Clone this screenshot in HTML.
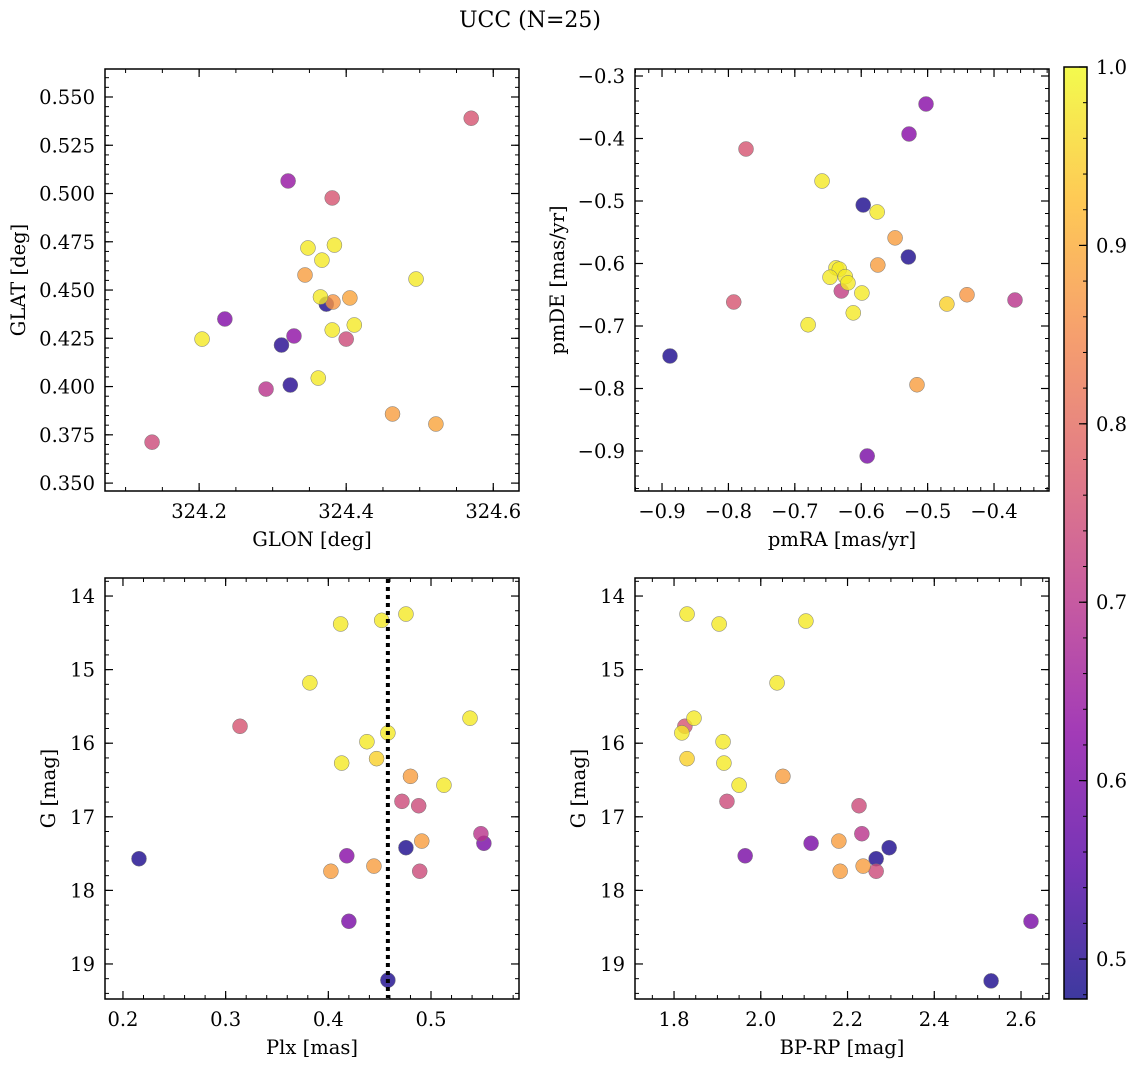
<!DOCTYPE html>
<html><head><meta charset="utf-8"><style>
html,body{margin:0;padding:0;background:#fff;}
svg{display:block;font-family:"DejaVu Serif","Liberation Serif",serif;}
</style></head><body>
<svg id="fig" width="1136" height="1067" viewBox="0 0 1136 1067" xmlns="http://www.w3.org/2000/svg">
<text x="530" y="27" font-size="22" text-anchor="middle">UCC (N=25)</text>
<defs><linearGradient id="cbg" x1="0" y1="1" x2="0" y2="0"></linearGradient></defs>
</svg>
<script>
// Panel 1: GLON vs GLAT
const glon = [324.570,324.321,324.381,324.348,324.384,324.367,324.344,324.495,324.365,324.373,324.382,324.405,324.235,324.204,324.381,324.411,324.329,324.400,324.312,324.362,324.324,324.291,324.463,324.522,324.136];
const glat = [0.539,0.5065,0.4977,0.4718,0.4733,0.4655,0.4578,0.4557,0.4464,0.4427,0.4438,0.4459,0.4350,0.4246,0.4293,0.4319,0.4262,0.4246,0.4215,0.4044,0.4008,0.3987,0.3858,0.3806,0.3712];
const prob1 = [0.76,0.64,0.76,0.98,0.98,0.98,0.88,0.98,0.98,0.49,0.87,0.89,0.61,0.98,0.98,0.98,0.63,0.74,0.50,0.98,0.50,0.70,0.88,0.89,0.74];
// Panel 2: pmRA vs pmDE
const pmra = [-0.5024,-0.528,-0.7735,-0.659,-0.597,-0.576,-0.549,-0.638,-0.633,-0.624,-0.647,-0.620,-0.575,-0.529,-0.630,-0.599,-0.792,-0.4407,-0.471,-0.3684,-0.612,-0.680,-0.888,-0.516,-0.591];
const pmde = [-0.3448,-0.3928,-0.4168,-0.468,-0.5064,-0.5176,-0.559,-0.607,-0.609,-0.621,-0.622,-0.631,-0.6024,-0.5896,-0.644,-0.6472,-0.6616,-0.650,-0.6648,-0.6584,-0.679,-0.698,-0.748,-0.794,-0.908];
const prob2 = [0.62,0.62,0.76,0.98,0.49,0.98,0.88,0.98,0.98,0.98,0.98,0.98,0.88,0.49,0.72,0.98,0.76,0.87,0.95,0.70,0.98,0.98,0.49,0.88,0.60];
// Panel 3: Plx vs G
const plx = [0.458,0.4756,0.452,0.412,0.382,0.314,0.538,0.458,0.4376,0.447,0.413,0.480,0.5126,0.4717,0.488,0.491,0.5486,0.5515,0.4756,0.2156,0.418,0.4444,0.4025,0.489,0.420];
const gmag3 = [19.22,14.245,14.33,14.38,15.18,15.77,15.66,15.86,15.98,16.21,16.27,16.45,16.57,16.79,16.85,17.33,17.23,17.36,17.42,17.57,17.53,17.67,17.74,17.74,18.42];
const prob3 = [0.49,0.98,0.98,0.98,0.98,0.76,0.98,0.98,0.98,0.95,0.98,0.88,0.98,0.74,0.74,0.88,0.70,0.60,0.49,0.49,0.62,0.88,0.88,0.74,0.60];
const plxLine = 0.458;
// Panel 4: BP-RP vs G
const bprp = [1.830,1.904,2.104,2.0375,1.825,1.846,1.818,1.913,1.830,1.915,1.950,2.051,1.922,2.2265,2.233,2.180,2.116,2.296,2.266,1.964,2.236,2.183,2.266,2.623,2.531];
const gmag4 = [14.245,14.38,14.34,15.18,15.77,15.66,15.86,15.98,16.21,16.27,16.57,16.45,16.79,16.85,17.23,17.33,17.36,17.42,17.57,17.53,17.67,17.74,17.74,18.42,19.23];
const prob4 = [0.98,0.98,0.98,0.98,0.76,0.98,0.98,0.98,0.95,0.98,0.98,0.88,0.74,0.74,0.70,0.88,0.60,0.49,0.49,0.60,0.88,0.88,0.74,0.60,0.49];
// tick labels
const xt1 = [324.2,324.4,324.6], yt1 = [0.350,0.375,0.400,0.425,0.450,0.475,0.500,0.525,0.550];
const xt2 = [-0.9,-0.8,-0.7,-0.6,-0.5,-0.4], yt2 = [-0.3,-0.4,-0.5,-0.6,-0.7,-0.8,-0.9];
const xt3 = [0.2,0.3,0.4,0.5], yt3 = [14,15,16,17,18,19];
const xt4 = [1.8,2.0,2.2,2.4,2.6];
const cbt = [0.5,0.6,0.7,0.8,0.9,1.0];
const cmin = 0.4776, cmax = 1.0;

const NS = "http://www.w3.org/2000/svg";
const svg = document.getElementById('fig');
const FS = 19.5;
function mk(tag, attrs, parent){const e=document.createElementNS(NS,tag);for(const k in attrs)e.setAttribute(k,attrs[k]);(parent||svg).appendChild(e);return e;}
const plasma=[[13,8,135],[84,2,163],[139,10,165],[185,50,137],[219,92,104],[244,136,73],[254,188,43],[240,249,33]];
function cmap(v){let t=(v-cmin)/(cmax-cmin);t=Math.max(0,Math.min(1,t));const s=t*(plasma.length-1);const i=Math.min(Math.floor(s),plasma.length-2);const f=s-i;const c=plasma[i].map((a,j)=>Math.round(a+(plasma[i+1][j]-a)*f));return 'rgb('+c.join(',')+')';}
function fmt(v,d){let s=v.toFixed(d);return s.replace('-','\u2212');}

function panel(name,box,xr,yr,xt,xd,xminor,yt,yd,yminor,xlabel,ylabel,yoff,xs,ys,cs,invertY){
  const [L,T,R,B]=box;
  const g=mk('g',{});
  
  
  const sx=v=>L+(v-xr[0])/(xr[1]-xr[0])*(R-L);
  const sy=invertY? v=>T+(v-yr[0])/(yr[1]-yr[0])*(B-T) : v=>B-(v-yr[0])/(yr[1]-yr[0])*(B-T);
  const x0=Math.ceil(xr[0]/xminor-1e-6), x1=Math.floor(xr[1]/xminor+1e-6);
  for(let k=x0;k<=x1;k++){const X=sx(k*xminor);mk('line',{x1:X,x2:X,y1:B,y2:B-4,stroke:'#000','stroke-width':1},g);mk('line',{x1:X,x2:X,y1:T,y2:T+4,stroke:'#000','stroke-width':1},g);}
  const y0=Math.ceil(Math.min(...yr)/yminor-1e-6), y1=Math.floor(Math.max(...yr)/yminor+1e-6);
  for(let k=y0;k<=y1;k++){const Y=sy(k*yminor);mk('line',{x1:L,x2:L+4,y1:Y,y2:Y,stroke:'#000','stroke-width':1},g);mk('line',{x1:R,x2:R-4,y1:Y,y2:Y,stroke:'#000','stroke-width':1},g);}
  xt.forEach(v=>{const X=sx(v);mk('line',{x1:X,x2:X,y1:B,y2:B-8,stroke:'#000','stroke-width':1.2},g);mk('line',{x1:X,x2:X,y1:T,y2:T+8,stroke:'#000','stroke-width':1.2},g);
    const t=mk('text',{x:X,y:B+27,'font-size':FS,'text-anchor':'middle'},g);t.textContent=fmt(v,xd);
    
    });
  yt.forEach(v=>{const Y=sy(v);mk('line',{x1:L,x2:L+8,y1:Y,y2:Y,stroke:'#000','stroke-width':1.2},g);mk('line',{x1:R,x2:R-8,y1:Y,y2:Y,stroke:'#000','stroke-width':1.2},g);
    const t=mk('text',{x:L-10,y:Y+7,'font-size':FS,'text-anchor':'end'},g);t.textContent=fmt(v,yd);
    
    });
  const xl=mk('text',{x:(L+R)/2,y:B+55,'font-size':FS,'text-anchor':'middle'},g);xl.textContent=xlabel;
  
  
  const yx=L-yoff;
  const yl=mk('text',{x:yx,y:(T+B)/2,'font-size':FS,'text-anchor':'middle',transform:'rotate(-90 '+yx+' '+(T+B)/2+')'},g);yl.textContent=ylabel;
  
  
  const order=xs.map((_,i)=>i).sort((a,b)=>cs[a]-cs[b]);
  order.forEach(i=>{const c=mk('circle',{cx:sx(xs[i]),cy:sy(ys[i]),r:7.5,fill:cmap(cs[i]),'fill-opacity':0.8,stroke:'#777','stroke-width':0.5},g);
    
    });
  mk('rect',{x:L,y:T,width:R-L,height:B-T,fill:'none',stroke:'#000','stroke-width':1.5},g);
  return {g,sx,sy};
}
panel('glon-glat-panel',[105,69,519,491],[324.072,324.635],[0.3459,0.5645],xt1,1,0.05,yt1,3,0.005,'GLON [deg]','GLAT [deg]',80,glon,glat,prob1,false);
panel('pm-panel',[635,69,1049,491],[-0.9407,-0.3172],[-0.964,-0.2888],xt2,1,0.02,yt2,1,0.02,'pmRA [mas/yr]','pmDE [mas/yr]',71,pmra,pmde,prob2,false);
const p3=panel('plx-g-panel',[105,578,519,999],[0.1825,0.5857],[13.755,19.476],xt3,1,0.02,yt3,0,0.2,'Plx [mas]','G [mag]',50,plx,gmag3,prob3,true);
const ln=mk('line',{x1:p3.sx(plxLine),x2:p3.sx(plxLine),y1:579,y2:998,stroke:'#000','stroke-width':4,'stroke-dasharray':'4 4'},p3.g);


panel('cmd-panel',[635,578,1049,999],[1.710,2.6645],[13.755,19.476],xt4,1,0.05,yt3,0,0.2,'BP-RP [mag]','G [mag]',50,bprp,gmag4,prob4,true);

// colorbar
const grad=document.getElementById('cbg');
for(let i=0;i<plasma.length;i++){mk('stop',{offset:(i/(plasma.length-1)),'stop-color':'rgb('+plasma[i].join(',')+')'},grad);}
const cb=mk('g',{});


const cL=1064,cR=1087,cT=67,cB=999;
mk('rect',{x:cL,y:cT,width:cR-cL,height:cB-cT,fill:'url(#cbg)','fill-opacity':0.8},cb);
const cy=v=>cB-(v-cmin)/(cmax-cmin)*(cB-cT);
for(let k=Math.ceil(cmin/0.02);k<=50;k++){const Y=cy(k*0.02);mk('line',{x1:cR,x2:cR-4,y1:Y,y2:Y,stroke:'#000','stroke-width':1},cb);}
cbt.forEach(v=>{const Y=cy(v);mk('line',{x1:cR,x2:cR-8,y1:Y,y2:Y,stroke:'#000','stroke-width':1.2},cb);
  const t=mk('text',{x:cR+9,y:Y+7,'font-size':FS},cb);t.textContent=v.toFixed(1);
  
  });
mk('rect',{x:cL,y:cT,width:cR-cL,height:cB-cT,fill:'none',stroke:'#000','stroke-width':1.5},cb);
</script>
</body></html>
